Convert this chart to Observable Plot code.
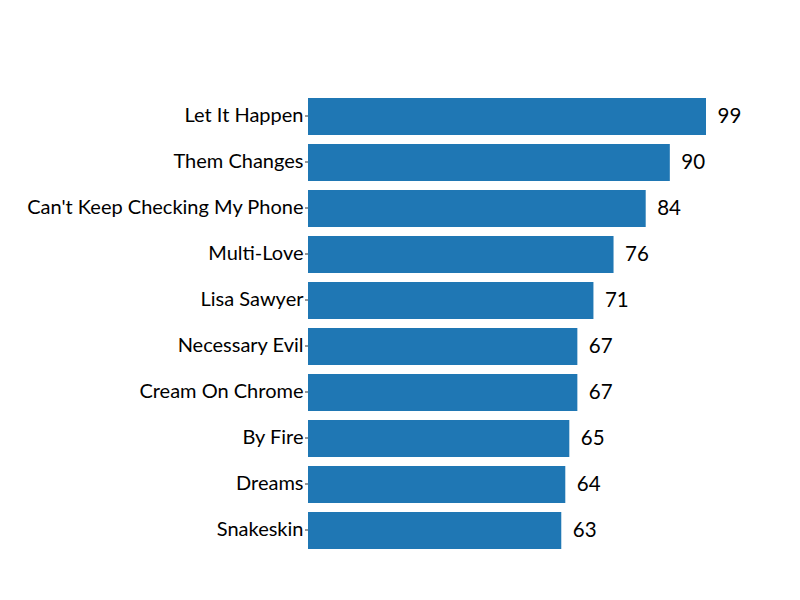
<!DOCTYPE html>
<html><head><meta charset="utf-8">
<script src="https://cdn.jsdelivr.net/npm/d3@7"></script>
<script src="https://cdn.jsdelivr.net/npm/@observablehq/plot@0.6"></script>
<style>body{margin:0;background:#fff;} svg{font-family:Lato,sans-serif;}</style>
</head><body><div id="chart"></div>
<script>
const songs = ["Let It Happen","Them Changes","Can't Keep Checking My Phone","Multi-Love","Lisa Sawyer","Necessary Evil","Cream On Chrome","By Fire","Dreams","Snakeskin"];
const scores = [99,90,84,76,71,67,67,65,64,63];
const data = songs.map((s,i)=>({song:s, score:scores[i]}));
const chart = Plot.plot({
  width:800, height:600,
  marginLeft:308, marginRight:94, marginTop:88, marginBottom:42,
  style:{fontFamily:"Lato, sans-serif", fontSize:"20px", background:"#fff"},
  x:{domain:[0,99], axis:null},
  y:{domain:songs, padding:0.2, label:null},
  marks:[
    Plot.barX(data,{x:"score", y:"song", fill:"#1f77b4"}),
    Plot.text(data,{x:"score", y:"song", text:d=>String(d.score), textAnchor:"start", dx:11, dy:-1, fontSize:20.5, fill:"#000"}),
    Plot.axisY({tickSize:3, tickPadding:2, fontSize:20, dy:-1, label:null, stroke:"#333"})
  ]
});
document.getElementById("chart").appendChild(chart);
</script></body></html>
